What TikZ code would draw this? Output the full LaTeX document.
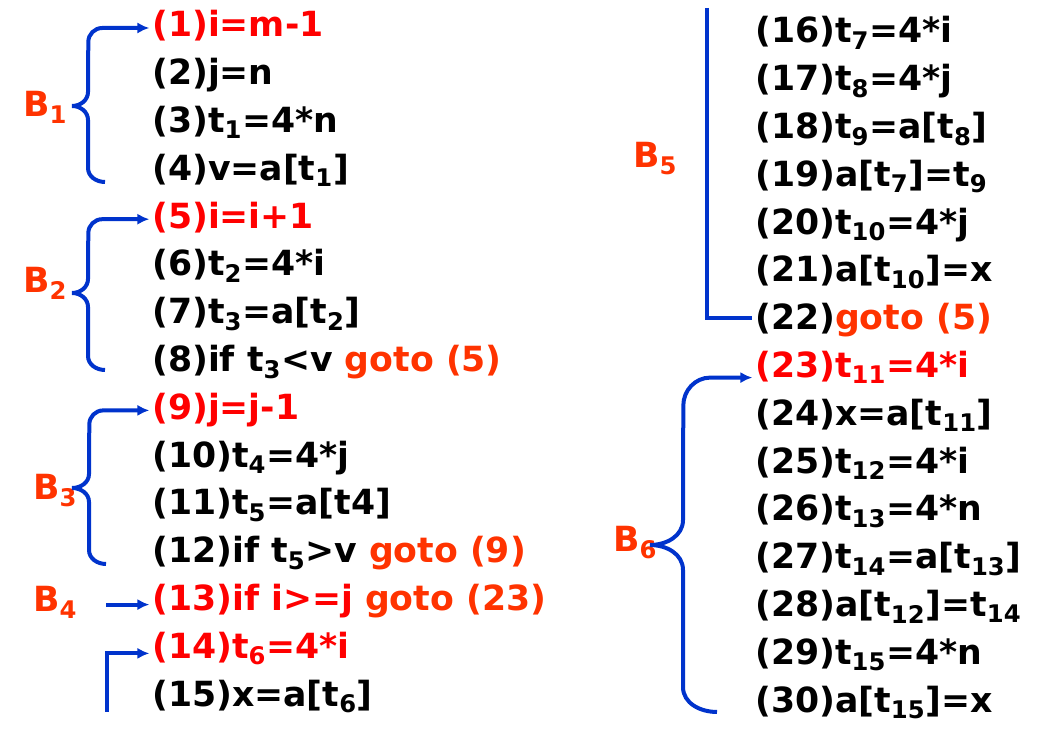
\documentclass[tikz,border=0pt]{standalone}
\usepackage{fontspec}
\setmainfont{DejaVu Sans}
\usepackage{xcolor}
\usepackage{tikz}
\usetikzlibrary{arrows.meta}
\usetikzlibrary{calc}
\definecolor{hotred}{RGB}{255,0,0}
\definecolor{jumpred}{RGB}{255,51,0}
\definecolor{braceblue}{RGB}{0,51,204}
\newcommand\codefont{\fontsize{26}{30}\selectfont\bfseries}
\newcommand\jump[1]{\textcolor{jumpred}{#1}}
\tikzset{
    code/.style={anchor=base west, inner xsep=2pt, inner ysep=0pt, font=\codefont},
    hot/.style={code, text=hotred},
    blabel/.style={anchor=base west, inner sep=0pt, font=\codefont, text=jumpred},
    link/.style={draw=braceblue, line width=3pt}}

\begin{document}
\begin{tikzpicture}[x=0.75pt, y=0.75pt, >={Latex[length=9pt,width=8.5pt]}]
        \useasboundingbox (0,0) rectangle (1053,745);

            % left column
            \node[hot]  (l1)  at (149.3,708.0) {(1)i=m-1};
            \node[code] (l2)  at (149.3,660.2) {(2)j=n};
            \node[code] (l3)  at (149.3,612.4) {(3)t\textsubscript{1}=4*n};
            \node[code] (l4)  at (149.3,564.6) {(4)v=a[t\textsubscript{1}]};
            \node[hot]  (l5)  at (149.3,516.8) {(5)i=i+1};
            \node[code] (l6)  at (149.3,469.0) {(6)t\textsubscript{2}=4*i};
            \node[code] (l7)  at (149.3,421.2) {(7)t\textsubscript{3}=a[t\textsubscript{2}]};
            \node[code] (l8)  at (149.3,373.4) {(8)if t\textsubscript{3}<v \jump{goto (5)}};
            \node[hot]  (l9)  at (149.3,325.6) {(9)j=j-1};
            \node[code] (l10) at (149.3,277.8) {(10)t\textsubscript{4}=4*j};
            \node[code] (l11) at (149.3,230.0) {(11)t\textsubscript{5}=a[t4]};
            \node[code] (l12) at (149.3,182.2) {(12)if t\textsubscript{5}>v \jump{goto (9)}};
            \node[hot]  (l13) at (149.3,134.4) {(13)if i>=j \jump{goto (23)}};
            \node[hot]  (l14) at (149.3,86.6)  {(14)t\textsubscript{6}=4*i};
            \node[code] (l15) at (149.3,38.8)  {(15)x=a[t\textsubscript{6}]};

            % right column
            \node[code] (l16) at (752.3,702.0) {(16)t\textsubscript{7}=4*i};
            \node[code] (l17) at (752.3,654.2) {(17)t\textsubscript{8}=4*j};
            \node[code] (l18) at (752.3,606.4) {(18)t\textsubscript{9}=a[t\textsubscript{8}]};
            \node[code] (l19) at (752.3,558.6) {(19)a[t\textsubscript{7}]=t\textsubscript{9}};
            \node[code] (l20) at (752.3,510.8) {(20)t\textsubscript{10}=4*j};
            \node[code] (l21) at (752.3,463.0) {(21)a[t\textsubscript{10}]=x};
            \node[code] (l22) at (752.3,415.2) {(22)\jump{goto (5)}};
            \node[hot]  (l23) at (752.3,367.4) {(23)t\textsubscript{11}=4*i};
            \node[code] (l24) at (752.3,319.6) {(24)x=a[t\textsubscript{11}]};
            \node[code] (l25) at (752.3,271.8) {(25)t\textsubscript{12}=4*i};
            \node[code] (l26) at (752.3,224.0) {(26)t\textsubscript{13}=4*n};
            \node[code] (l27) at (752.3,176.2) {(27)t\textsubscript{14}=a[t\textsubscript{13}]};
            \node[code] (l28) at (752.3,128.4) {(28)a[t\textsubscript{12}]=t\textsubscript{14}};
            \node[code] (l29) at (752.3,80.6)  {(29)t\textsubscript{15}=4*n};
            \node[code] (l30) at (752.3,32.8)  {(30)a[t\textsubscript{15}]=x};

            % block names
            \node[blabel] (B1) at (23,628) {B\textsubscript{1}};
            \node[blabel] (B2) at (23,452) {B\textsubscript{2}};
            \node[blabel] (B3) at (33,245) {B\textsubscript{3}};
            \node[blabel] (B4) at (33,133) {B\textsubscript{4}};
            \node[blabel] (B5) at (633,577) {B\textsubscript{5}};
            \node[blabel] (B6) at (613,193) {B\textsubscript{6}};

            % entry points of the blocks
            \coordinate (in1) at ($(l1.base west)+(0,9)$);
            \coordinate (in5) at ($(l5.base west)+(0,9)$);
            \coordinate (in9) at ($(l9.base west)+(0,9)$);
            \coordinate (in13) at ($(l13.base west)+(0,6)$);
            \coordinate (in14) at ($(l14.base west)+(0,5)$);
            \coordinate (in22) at ($(l22.base west)+(0,12)$);
            \coordinate (b4tail) at (106,0);
            \coordinate (b5low) at (107,33);
            \coordinate (b5high) at (707,737);

            \draw[link, ->] (105,563) to[out=180,in=-90] (88,577) -- (88,625) to[out=90,in=0] (72,639) to[out=0,in=-90] (88,653)
                -- ($(in1)+(-61,-14)$) to[out=90,in=180] ($(in1)+(-47,0)$) -- (in1);
            \draw[link, ->] (105,375) to[out=180,in=-90] (88,389) -- (88,438) to[out=90,in=0] (72,452) to[out=0,in=-90] (88,466)
                -- ($(in5)+(-61,-14)$) to[out=90,in=180] ($(in5)+(-47,0)$) -- (in5);
            \draw[link, ->] (106,181) to[out=180,in=-90] (89,195) -- (89,243) to[out=90,in=0] (72,257) to[out=0,in=-90] (89,271)
                -- ($(in9)+(-60,-14)$) to[out=90,in=180] ($(in9)+(-46,0)$) -- (in9);
            \draw[link, ->] (b4tail |- in13) -- (in13);
            \draw[link, ->] (b5low) |- (in14);
            \draw[link] (b5high) |- (in22);
            \draw[link, ->] (717,33) to[out=180,in=-90] (683,58) -- (683,175) to[out=90,in=0] (650,200) to[out=0,in=-90] (683,225)
                -- ($(l23.base west)+(-69,-28)$) to[out=90,in=180] ($(l23.base west)+(-42,0)$) -- (l23.base west);

        \end{tikzpicture}
\end{document}
